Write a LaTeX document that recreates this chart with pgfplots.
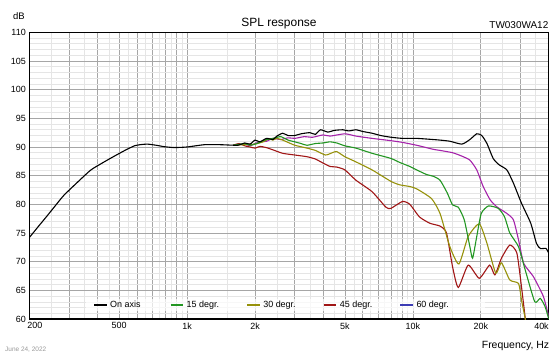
\documentclass[border=0pt]{standalone}
\usepackage{fontspec}
\setmainfont{Liberation Sans}
\usepackage{pgfplots}
\pgfplotsset{compat=1.18}
\definecolor{cOn}{RGB}{0,0,0}
\definecolor{c15}{RGB}{34,150,34}
\definecolor{c30}{RGB}{150,145,10}
\definecolor{c45}{RGB}{160,22,22}
\definecolor{c60}{RGB}{60,60,180}
\definecolor{cMag}{RGB}{165,35,170}
\begin{document}
\begin{tikzpicture}[x=1bp,y=1bp]
\useasboundingbox (0,0) rectangle (560,356);
\begin{axis}[
  at={(29.3bp,37bp)}, anchor=south west,
  width=519.4bp, height=286.7bp, scale only axis,
  xmode=log, xmin=200, xmax=40000, ymin=60, ymax=110,
  /pgf/number format/assume math mode=true,
  xtick={200,300,400,500,600,700,800,900,1000,2000,3000,4000,5000,6000,7000,8000,9000,10000,20000,30000,40000},
  xticklabels={{\makebox[0pt][l]{\hspace*{-2bp}200}},{},{},500,{},{},{},{},1k,2k,{},{},5k,{},{},{},{},10k,20k,{},{\makebox[0pt][r]{40k}}},
  minor xtick={250,350,450,550,650,750,850,950,1500,2500,3500,4500,5500,6500,7500,8500,9500,15000,25000,35000},
  ytick={60,65,...,110},
  minor ytick={61,62,63,64,66,67,68,69,71,72,73,74,76,77,78,79,81,82,83,84,86,87,88,89,91,92,93,94,96,97,98,99,101,102,103,104,106,107,108,109},
  grid=both,
  major grid style={draw=black!35, line width=0.6bp},
  minor grid style={draw=black!10, line width=0.6bp},
  tick style={draw=none},
  axis line style={black, line width=1.1bp},
  ticklabel style={font=\fontsize{9}{10}\selectfont},
  legend columns=5,
  legend image code/.code={\draw[#1,line width=1.1bp] (0bp,0bp) -- (12.5bp,0bp);},
  legend style={at={(0.1078,0.0488)}, anchor=west, draw=none, fill=white, fill opacity=0.7, text opacity=1,
    inner xsep=8bp, inner ysep=2bp, font=\fontsize{9}{10}\selectfont,
    nodes={inner sep=0pt},
    /tikz/every odd column/.append style={column sep=3bp}},
  every axis plot/.append style={line width=1.1bp, smooth, tension=0.35},
]
\addlegendimage{cOn}\addlegendentry{\makebox[60bp][l]{On axis}}
\addlegendimage{c15}\addlegendentry{\makebox[60bp][l]{15 degr.}}
\addlegendimage{c30}\addlegendentry{\makebox[60bp][l]{30 degr.}}
\addlegendimage{c45}\addlegendentry{\makebox[60bp][l]{45 degr.}}
\addlegendimage{c60}\addlegendentry{\makebox[60bp][l]{60 degr.}}
% magenta
\addplot[cMag, forget plot] coordinates {
(1600,90.3)(1800,90.5)(1900,90.2)(2000,90.6)(2100,90.9)(2250,91.0)(2400,91.5)(2600,91.3)(2800,91.6)(3000,91.5)(3300,91.8)(3600,91.7)(4000,92.1)(4300,91.9)(5000,92.3)(5600,91.9)(6600,91.5)(8000,91.1)(9000,90.8)(10400,90.3)(12300,89.6)(13200,89.4)(15000,89.0)(16500,88.4)(17900,87.7)(19200,86.0)(20500,83.1)(22000,80.8)(23500,79.6)(26100,78.4)(27900,77.3)(29400,73.8)(31000,69.7)(34200,67.4)(37900,63.9)(40000,60.4)};
% 45 degr
\addplot[c45, forget plot] coordinates {
(1600,90.3)(1700,90.6)(1800,90.2)(1900,90.0)(2000,89.8)(2100,90.1)(2240,89.9)(2400,89.5)(2650,88.9)(3000,88.6)(3400,88.3)(3700,87.9)(4000,87.2)(4300,86.6)(4600,86.5)(5000,86.0)(5600,84.2)(6600,82.2)(7600,79.5)(8000,79.3)(9000,80.5)(9700,80.0)(10700,77.8)(11900,76.7)(13200,76.2)(14100,75.0)(15000,69.1)(15900,65.5)(17600,69.4)(19700,67.1)(21900,69.4)(23100,67.7)(24700,70.6)(26900,72.9)(28900,71.5)(30300,65.6)(31500,60.0)(32000,57.0)};
% 30 degr
\addplot[c30, forget plot] coordinates {
(1600,90.3)(1800,90.4)(2000,90.5)(2170,90.9)(2300,91.4)(2400,91.2)(2500,91.5)(2650,91.2)(2800,90.8)(3000,90.3)(3400,89.8)(3700,89.4)(4100,88.6)(4400,89.0)(4600,89.2)(5000,88.3)(5600,87.4)(6600,86.0)(8000,84.0)(8750,83.4)(9700,83.1)(10400,82.7)(12100,81.0)(13200,78.4)(14600,72.6)(16000,69.6)(17600,74.4)(19700,76.6)(21300,73.2)(23300,68.0)(24700,69.8)(26900,66.8)(29400,66.2)(30300,63.3)(31500,60.0)(32000,58.0)};
% 15 degr
\addplot[c15, forget plot] coordinates {
(1600,90.3)(1800,90.6)(1900,90.3)(2000,90.5)(2100,90.8)(2200,91.2)(2400,91.5)(2600,91.8)(2800,91.2)(3000,90.9)(3200,90.6)(3400,90.3)(3700,90.6)(4000,90.7)(4300,90.9)(4600,90.7)(5000,90.2)(5600,89.8)(6600,88.9)(8000,88.0)(8750,87.3)(9700,86.6)(10400,86.0)(11500,85.2)(12300,84.9)(13200,84.2)(14200,82.0)(15000,79.9)(15900,79.5)(16900,77.3)(17900,72.6)(18400,70.6)(19200,74.4)(20100,78.4)(21600,79.7)(23900,79.3)(25500,77.8)(26900,75.0)(29400,72.6)(31500,68.5)(34700,63.0)(36700,63.6)(38600,62.1)(40000,60.0)};
% on axis
\addplot[cOn, forget plot] coordinates {
(200,74.2)(220,76.2)(240,78.0)(260,79.7)(285,81.6)(330,84.0)(375,86.0)(425,87.3)(476,88.4)(530,89.4)(584,90.2)(620,90.4)(668,90.5)(730,90.3)(793,90.05)(879,89.9)(1000,90.0)(1194,90.4)(1400,90.4)(1679,90.3)(1800,90.7)(1900,90.5)(2000,91.2)(2100,90.9)(2250,91.5)(2400,91.3)(2500,91.9)(2650,92.4)(2800,92.0)(3000,92.0)(3200,92.3)(3500,92.5)(3700,92.2)(3900,93.0)(4200,92.6)(4500,92.9)(4900,93.0)(5200,92.8)(5600,93.0)(6000,92.7)(6600,92.4)(7200,92.0)(8000,91.7)(9000,91.5)(10400,91.5)(12300,91.3)(13200,91.2)(14600,91.0)(16500,90.5)(17900,91.3)(19200,92.3)(20200,92.0)(21300,90.6)(22700,88.0)(24100,86.9)(26100,86.0)(27900,83.7)(30300,80.2)(33300,76.7)(35300,73.2)(36700,72.3)(38900,72.3)(40000,71.5)};
\end{axis}
\node[anchor=base, inner sep=0, font=\fontsize{12}{14}\selectfont] at (279,329.3) {SPL response};
\node[anchor=base east, inner sep=0, font=\fontsize{10}{12}\selectfont] at (548.5,327.7) {TW030WA12};
\node[anchor=base east, inner sep=0, font=\fontsize{9.5}{11}\selectfont] at (25,336.7) {dB};
\node[anchor=base east, inner sep=0, font=\fontsize{10.5}{12}\selectfont] at (549.3,7.7) {Frequency, Hz};
\node[anchor=base west, inner sep=0, font=\fontsize{6.5}{8}\selectfont, text=black!40] at (5,4.3) {June 24, 2022};
\end{tikzpicture}
\end{document}
